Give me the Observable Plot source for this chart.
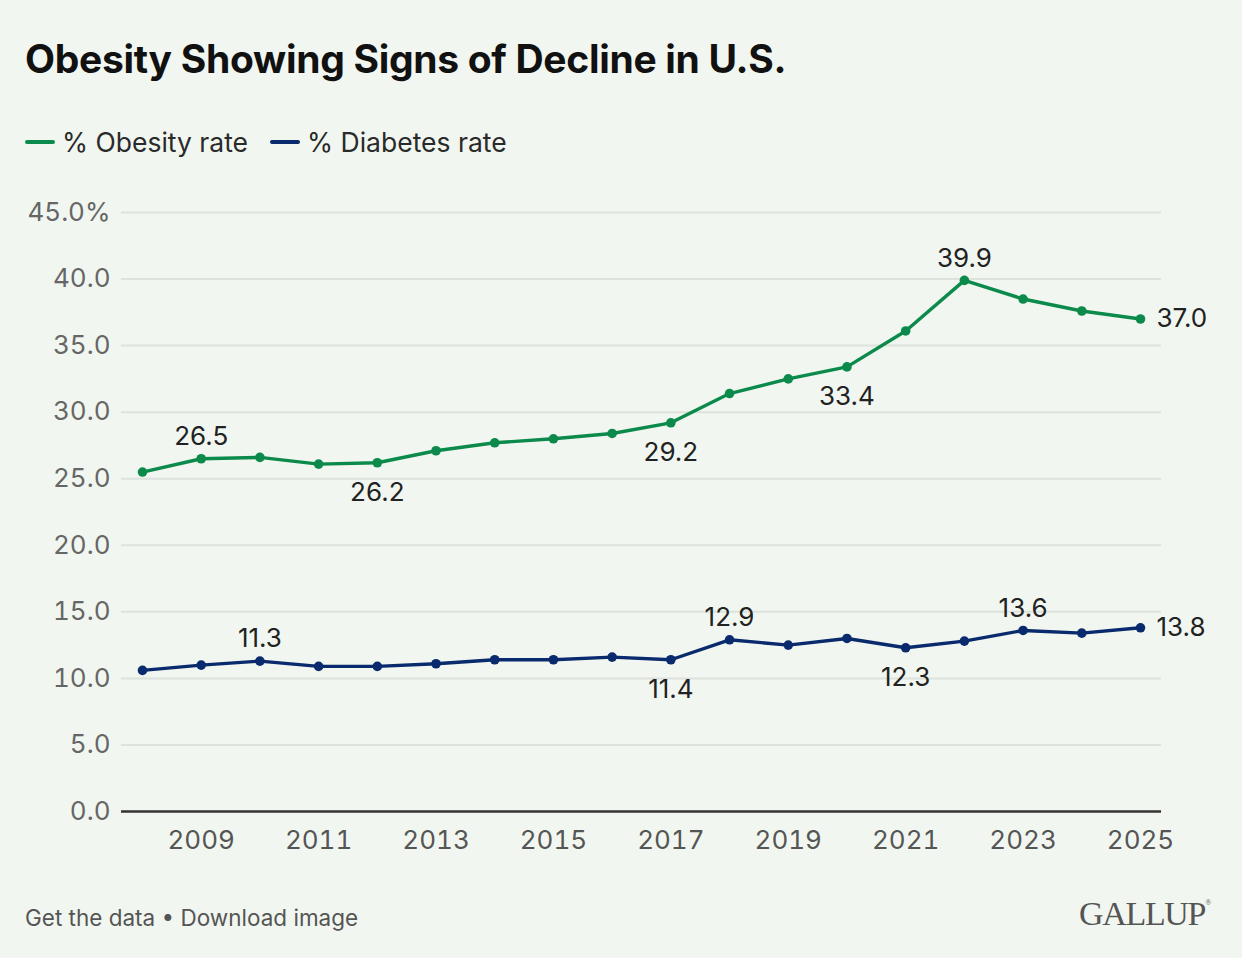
<!DOCTYPE html>
<html>
<head>
<meta charset="utf-8">
<script src="https://cdn.jsdelivr.net/npm/d3@7"></script>
<script src="https://cdn.jsdelivr.net/npm/@observablehq/plot@0.6"></script>
<style>
  html, body { margin: 0; padding: 0; background: #f1f7f0; }
  #wrap { position: relative; width: 1242px; height: 958px; background: #f1f7f0; font-family: Inter, "Noto Sans", sans-serif; overflow: hidden; }
  #title { position: absolute; left: 25px; top: 35px; font-size: 39px; font-weight: 700; color: #111; letter-spacing: -0.3px; white-space: nowrap; }
  #legend { position: absolute; left: 25px; top: 126px; font-size: 26.5px; color: #2a2a2a; display: flex; align-items: center; white-space: nowrap; }
  .sw { display: inline-block; width: 30px; height: 3.5px; border-radius: 2px; margin-right: 7px; }
  .item { display: flex; align-items: center; margin-right: 22px; }
  #chart { position: absolute; left: 0; top: 180px; }
  #footer { position: absolute; left: 25px; top: 904px; font-size: 22.5px; color: #555; white-space: nowrap; }
  #logo { position: absolute; right: 32px; top: 895px; font-family: "Liberation Serif", "DejaVu Serif", serif; font-size: 34px; color: #555; letter-spacing: -1.3px; }
  #logo sup { font-size: 8px; vertical-align: top; position: relative; top: 3px; }
</style>
</head>
<body>
<div id="wrap">
  <div id="title">Obesity Showing Signs of Decline in U.S.</div>
  <div id="legend"></div>
  <div id="chart"></div>
  <div id="footer">Get the data • Download image</div>
  <div id="logo">GALLUP<sup>®</sup></div>
</div>
<script>
const years = [2008,2009,2010,2011,2012,2013,2014,2015,2016,2017,2018,2019,2020,2021,2022,2023,2024,2025];
const obesity = [25.5,26.5,26.6,26.1,26.2,27.1,27.7,28.0,28.4,29.2,31.4,32.5,33.4,36.1,39.9,38.5,37.6,37.0];
const diabetes = [10.6,11.0,11.3,10.9,10.9,11.1,11.4,11.4,11.6,11.4,12.9,12.5,13.0,12.3,12.8,13.6,13.4,13.8];
const seriesNames = ["% Obesity rate", "% Diabetes rate"];
const seriesColors = ["#0b8a4b", "#0a2a6e"];
const yTicks = [0,5,10,15,20,25,30,35,40,45];
const xTicks = [2009,2011,2013,2015,2017,2019,2021,2023,2025];
const obesityLabels = [[2009,"above"],[2012,"below"],[2017,"below"],[2020,"below"],[2022,"above"],[2025,"right"]];
const diabetesLabels = [[2010,"above"],[2017,"below"],[2018,"above"],[2021,"below"],[2023,"above"],[2025,"right"]];

const rows = [];
years.forEach((y, i) => {
  rows.push({year: y, value: obesity[i], series: seriesNames[0]});
  rows.push({year: y, value: diabetes[i], series: seriesNames[1]});
});
const labelRows = [];
obesityLabels.forEach(([y, pos]) => labelRows.push({year: y, value: obesity[years.indexOf(y)], series: seriesNames[0], pos}));
diabetesLabels.forEach(([y, pos]) => labelRows.push({year: y, value: diabetes[years.indexOf(y)], series: seriesNames[1], pos}));

const leg = document.getElementById("legend");
seriesNames.forEach((n, i) => {
  const it = document.createElement("div");
  it.className = "item";
  it.innerHTML = `<span class="sw" style="background:${seriesColors[i]}"></span><span>${n}</span>`;
  leg.appendChild(it);
});

const fmt = d3.format(".1f");
const txt = {fontSize: 26, fill: "#222"};
const plot = Plot.plot({
  width: 1242,
  height: 700,
  marginTop: 32,
  marginBottom: 69,
  marginLeft: 121,
  marginRight: 81,
  insetLeft: 21,
  insetRight: 21,
  style: {background: "transparent", fontFamily: "Inter, 'Noto Sans', sans-serif"},
  x: {type: "linear", domain: [2008, 2025], label: null},
  y: {domain: [0, 45], label: null},
  color: {domain: seriesNames, range: seriesColors},
  marks: [
    Plot.ruleY(yTicks.filter(d => d > 0), {stroke: "#dde3dc", strokeWidth: 2}),
    Plot.axisY({ticks: yTicks, label: null, tickSize: 0, tickPadding: 11, fontSize: 26, color: "#666", tickFormat: d => d === 45 ? fmt(d) + "%" : fmt(d)}),
    Plot.axisX({ticks: xTicks, label: null, tickSize: 0, tickPadding: 19, fontSize: 26, color: "#555", tickFormat: d => String(d)}),
    Plot.ruleY([0], {stroke: "#333", strokeWidth: 2.5}),
    Plot.line(rows, {x: "year", y: "value", z: "series", stroke: "series", strokeWidth: 3.4}),
    Plot.dot(rows, {x: "year", y: "value", fill: "series", r: 4.8}),
    Plot.text(labelRows.filter(d => d.pos === "above"), {x: "year", y: "value", text: d => fmt(d.value), dy: -22, ...txt}),
    Plot.text(labelRows.filter(d => d.pos === "below"), {x: "year", y: "value", text: d => fmt(d.value), dy: 30, ...txt}),
    Plot.text(labelRows.filter(d => d.pos === "right"), {x: "year", y: "value", text: d => fmt(d.value), dx: 16, textAnchor: "start", ...txt})
  ]
});
document.getElementById("chart").appendChild(plot);
</script>
</body>
</html>
